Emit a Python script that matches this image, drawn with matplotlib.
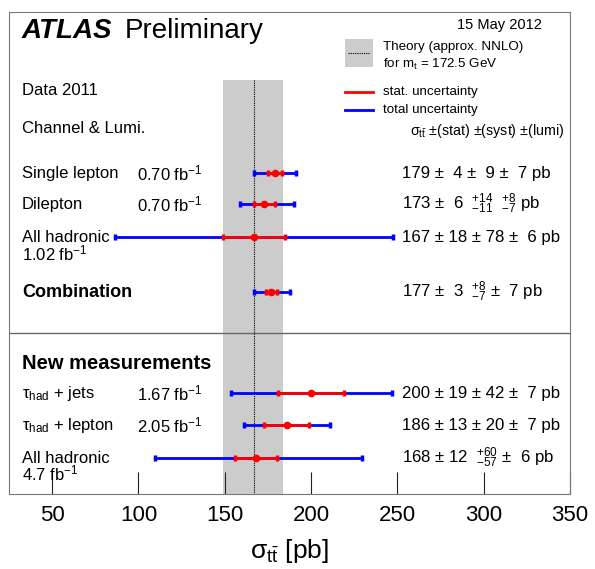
import matplotlib
matplotlib.use("Agg")
import matplotlib.pyplot as plt
import numpy as np

plt.rcParams['font.family'] = 'Liberation Sans'
plt.rcParams['mathtext.fontset'] = 'custom'
plt.rcParams['mathtext.rm'] = 'Liberation Sans'
plt.rcParams['mathtext.it'] = 'Liberation Sans:italic'
plt.rcParams['mathtext.bf'] = 'Liberation Sans:bold'

# measurements (pb)
names = ["Single lepton", "Dilepton", "All hadronic", "Combination",
         "τ$_{\\rm had}$ + jets", "τ$_{\\rm had}$ + lepton", "All hadronic"]
lumis = ["0.70 fb$^{-1}$", "0.70 fb$^{-1}$", "1.02 fb$^{-1}$", "",
         "1.67 fb$^{-1}$", "2.05 fb$^{-1}$", "4.7 fb$^{-1}$"]
xsec = [179, 173, 167, 177, 200, 186, 168]
stat = [4, 6, 18, 3, 19, 13, 12]
tot_lo = [12.1, 14.4, 80.3, 10.3, 46.6, 24.9, 58.6]
tot_hi = [12.1, 17.2, 80.3, 11.0, 46.6, 24.9, 61.5]
value_text = ["179 ±  4 ±  9 ±  7 pb",
              "173 ±  6  $^{+14}_{-11}$  $^{+8}_{-7}$ pb",
              "167 ± 18 ± 78 ±  6 pb",
              "177 ±  3  $^{+8}_{-7}$ ±  7 pb",
              "200 ± 19 ± 42 ±  7 pb",
              "186 ± 13 ± 20 ±  7 pb",
              "168 ± 12  $^{+60}_{-57}$ ±  6 pb"]

theory = 167
theory_lo = 18
theory_hi = 17

# vertical layout (y grows downward)
rows = [173, 204, 237, 292, 393, 425, 458]

fig = plt.figure(figsize=(5.95, 5.69), dpi=100)
ax = fig.add_axes([0.0151, 0.1318, 0.9429, 0.8471])
ax.set_xlim(25, 350)
ax.set_ylim(494, 12)
yt = ax.get_yaxis_transform()

ax.fill_between([theory - theory_lo, theory + theory_hi], 80, 494,
                color='#cccccc', lw=0, zorder=0)
ax.plot([theory, theory], [80, 494], color='k', ls=(0, (1, 1)), lw=0.8, zorder=1)
ax.axhline(333, color='#666666', lw=1)

for i in range(len(xsec)):
    y = rows[i]
    ax.errorbar(xsec[i], y, xerr=[[tot_lo[i]], [tot_hi[i]]], fmt='none',
                ecolor='blue', elinewidth=2, capsize=2.3, capthick=2.5, zorder=3)
    ax.errorbar(xsec[i], y, xerr=stat[i], fmt='o', color='red', ms=4.5,
                ecolor='red', elinewidth=2, capsize=2.3, capthick=2.5, zorder=4)
    ax.text(0.7, y, value_text[i], transform=yt,
            fontsize=12.1, va='center', ha='left')

fs = 12
for i in [0, 1, 4, 5]:
    ax.text(0.023, rows[i], names[i], transform=yt, fontsize=fs, va='center')
    ax.text(0.229, rows[i], lumis[i], transform=yt, fontsize=fs, va='center')
for i, dy in [(2, 16), (6, 15)]:
    ax.text(0.023, rows[i], names[i], transform=yt, fontsize=fs, va='center')
    ax.text(0.023, rows[i] + dy, lumis[i], transform=yt, fontsize=fs, va='center')
ax.text(0.023, rows[3], names[3], transform=yt,
        fontsize=13, va='center', fontweight='bold')

ax.text(0.023, 363, "New measurements", transform=yt, fontsize=14.5,
        fontweight='bold', va='center')
ax.text(0.023, 90, "Data 2011", transform=yt, fontsize=fs, va='center')
ax.text(0.023, 128, "Channel & Lumi.", transform=yt, fontsize=fs, va='center')
ax.text(0.023, 31, "ATLAS", transform=yt, fontsize=20, fontweight='bold',
        fontstyle='italic', va='center')
ax.text(0.207, 31, "Preliminary", transform=yt, fontsize=20, va='center')
ax.text(0.95, 25, "15 May 2012", transform=yt, fontsize=10.5, va='center', ha='right')

# legend
ax.fill_between([0.599, 0.649], 39, 67, transform=yt, color='#cccccc', lw=0)
ax.plot([0.604, 0.644], [53, 53], transform=yt, color='k', ls=(0, (1, 1)), lw=0.8)
ax.text(0.667, 47, "Theory (approx. NNLO)", transform=yt, fontsize=9.6, va='center')
ax.text(0.667, 64, "for m$_{\\rm t}$ = 172.5 GeV", transform=yt, fontsize=9.6, va='center')
ax.plot([0.599, 0.649], [92, 92], transform=yt, color='red', lw=2)
ax.text(0.667, 92, "stat. uncertainty", transform=yt, fontsize=9.6, va='center')
ax.plot([0.599, 0.649], [110, 110], transform=yt, color='blue', lw=2)
ax.text(0.667, 110, "total uncertainty", transform=yt, fontsize=9.6, va='center')
ax.text(0.99, 131, "σ$_{\\rm t\\bar{t}}$ ±(stat) ±(syst) ±(lumi)",
        transform=yt, fontsize=10.3, va='center', ha='right')

ax.set_xticks([50, 100, 150, 200, 250, 300, 350])
ax.set_yticks([])
ax.tick_params(axis='x', direction='in', length=16, labelsize=16, pad=8,
               color='#222222', width=0.8)
for s in ax.spines.values():
    s.set_color('#777777')
ax.set_xlabel("σ$_{\\rm t\\bar{t}}$ [pb]", fontsize=19, labelpad=8)

plt.savefig("out.png", dpi=100)
